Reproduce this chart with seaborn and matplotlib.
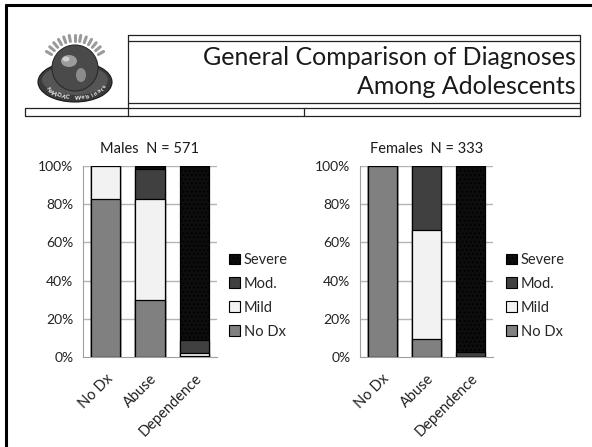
import numpy as np
import pandas as pd
import matplotlib
matplotlib.use("Agg")
import matplotlib.pyplot as plt
from matplotlib.patches import Circle, Ellipse, Patch
from matplotlib.ticker import FixedLocator
import seaborn as sns

sns.set_style("white")
plt.rcParams["font.family"] = ["Lato", "DejaVu Sans"]
plt.rcParams["hatch.color"] = "#a8a8a8"
plt.rcParams["hatch.linewidth"] = 0.8

# ---- data (percent of group) ----
categories = ["No Dx", "Abuse", "Dependence"]
levels = ["No Dx", "Mild", "Mod.", "Severe"]

males_nodx = [82.5, 30.0, 0.5]
males_mild = [17.5, 52.5, 1.5]
males_mod = [0.0, 16.0, 7.0]
males_severe = [0.0, 1.5, 91.0]

females_nodx = [100.0, 9.5, 0.0]
females_mild = [0.0, 57.0, 0.0]
females_mod = [0.0, 33.5, 3.0]
females_severe = [0.0, 0.0, 97.0]

panel_titles = ["Males  N = 571", "Females  N = 333"]
y_ticks = [0, 20, 40, 60, 80, 100]
y_tick_labels = ["0%", "20%", "40%", "60%", "80%", "100%"]

level_colors = {"No Dx": "#808080", "Mild": "#f2f2f2", "Mod.": "#404040", "Severe": "#0d0d0d"}
level_hatch = {"No Dx": None, "Mild": None, "Mod.": None, "Severe": "...."}


def long_table(nodx, mild, mod, severe):
    rows = []
    for i, c in enumerate(categories):
        for lvl, vals in zip(levels, [nodx, mild, mod, severe]):
            rows.append({"category": c, "level": lvl, "value": vals[i]})
    df = pd.DataFrame(rows)
    df["cum"] = df.groupby("category")["value"].cumsum()
    return df


tables = [long_table(males_nodx, males_mild, males_mod, males_severe),
          long_table(females_nodx, females_mild, females_mod, females_severe)]

W, H = 592, 447
fig = plt.figure(figsize=(W / 100, H / 100), dpi=100)

# ---- slide frame, header box and emblem (pixel coordinates) ----
bg = fig.add_axes([0, 0, 1, 1], zorder=0)
bg.set_xlim(0, W)
bg.set_ylim(H, 0)
bg.axis("off")

bg.plot([5, W], [5, 5], color="black", lw=2.2, solid_capstyle="butt")
bg.plot([5.5, 5.5], [4, H], color="black", lw=2.2, solid_capstyle="butt")

lc = "#222222"
lw = 0.9
for y, x0 in [(35, 128), (41.3, 128), (103.3, 128), (107.5, 25), (116, 25)]:
    bg.plot([x0, 580], [y, y], color=lc, lw=lw)
for x, y0, y1 in [(128, 35, 116), (580, 35, 116), (25, 107.5, 116), (304, 107.5, 116)]:
    bg.plot([x, x], [y0, y1], color=lc, lw=lw)

bg.text(576, 65, "General Comparison of Diagnoses", ha="right", va="baseline",
        fontsize=18, color="#1a1a1a")
bg.text(576, 94.5, "Among Adolescents", ha="right", va="baseline",
        fontsize=18, color="#1a1a1a")

# emblem: globe on a dark base with a ring of rays and curved caption
cx, cy = 75, 72
for ang in np.linspace(150, 30, 13):
    a = np.deg2rad(ang)
    r0, r1 = 27, 33
    bg.plot([cx + r0 * np.cos(a), cx + r1 * np.cos(a)],
            [cy - 4 - r0 * np.sin(a), cy - 4 - r1 * np.sin(a)],
            color="#9a9a9a", lw=2.2, solid_capstyle="round")
bg.add_patch(Ellipse((cx, cy + 10), 74, 40, facecolor="#3a3a3a", edgecolor="#1a1a1a", lw=0.8))
bg.add_patch(Ellipse((cx, cy + 8), 66, 30, facecolor="#555555", edgecolor="none"))
bg.add_patch(Circle((cx, cy - 4), 23, facecolor="#4a4a4a", edgecolor="#2a2a2a", lw=0.8))
bg.add_patch(Ellipse((cx - 6, cy - 11), 16, 12, facecolor="#9c9c9c", edgecolor="none"))
bg.add_patch(Ellipse((cx + 6, cy + 3), 10, 14, facecolor="#8c8c8c", edgecolor="none"))
bg.add_patch(Ellipse((cx - 9, cy - 13), 7, 5, facecolor="#d0d0d0", edgecolor="none"))
caption = "NAADAC Webinars"
angs = np.linspace(208, 342, len(caption))
for ch, ang in zip(caption, angs):
    a = np.deg2rad(ang)
    x = cx + 31 * np.cos(a)
    y = cy + 9 - 17 * np.sin(a)
    bg.text(x, y, ch, ha="center", va="center", fontsize=4.4, color="white",
            fontweight="bold", rotation=ang - 270)

# ---- stacked bar panels ----
panel_left = [83 / W, 360 / W]
panel_width = [134 / W, 133 / W]
bottom = (H - 357.3) / H
height = (357.3 - 165.7) / H
legend_x = [229 / W, 506 / W]

for k, df in enumerate(tables):
    ax = fig.add_axes([panel_left[k], bottom, panel_width[k], height], zorder=2)
    ax.set_facecolor("none")
    # draw cumulative layers from the top level down so each sits over the previous
    for lvl in reversed(levels):
        sub = df[df["level"] == lvl]
        sns.barplot(data=sub, x="category", y="cum", order=categories, ax=ax,
                    color=level_colors[lvl], width=0.65, edgecolor="black",
                    linewidth=0.9, hatch=level_hatch[lvl], saturation=1,
                    errorbar=None, zorder=3)

    ax.set_ylim(0, 100)
    ax.set_xlim(-0.5, 2.5)
    ax.set_yticks(y_ticks)
    ax.set_yticklabels(y_tick_labels, fontsize=10, color="#222222")
    ax.set_xticks(range(len(categories)))
    ax.set_xticklabels(categories, rotation=45, ha="right", rotation_mode="anchor",
                       fontsize=10.5, color="#222222")
    ax.xaxis.set_minor_locator(FixedLocator([-0.5, 0.5, 1.5, 2.5]))
    ax.tick_params(axis="x", which="major", length=0, pad=10)
    ax.tick_params(axis="x", which="minor", length=4, width=0.8, color="#a0a0a0", direction="out")
    ax.tick_params(axis="y", length=4, width=0.8, color="#a0a0a0", direction="out", pad=3)
    ax.set_xlabel("")
    ax.set_ylabel("")
    for yv in y_ticks[1:]:
        ax.axhline(yv, color="#b4b4b4", lw=1.0, zorder=1)
    for side in ["top", "right"]:
        ax.spines[side].set_visible(False)
    for side in ["left", "bottom"]:
        ax.spines[side].set_visible(True)
        ax.spines[side].set_color("#a0a0a0")
        ax.spines[side].set_linewidth(0.8)

    ax.set_title(panel_titles[k], fontsize=10.5, color="#1a1a1a", pad=9)

    handles = [Patch(facecolor=level_colors[l], edgecolor="black", linewidth=0.8,
                     hatch=level_hatch[l], label=l) for l in reversed(levels)]
    fig.legend(handles=handles, loc="upper left",
               bbox_to_anchor=(legend_x[k], (H - 253) / H), frameon=False,
               fontsize=10.5, handlelength=0.75, handleheight=0.75,
               handletextpad=0.25, labelspacing=0.68, borderpad=0, borderaxespad=0)

fig.savefig("out.png", dpi=100)
